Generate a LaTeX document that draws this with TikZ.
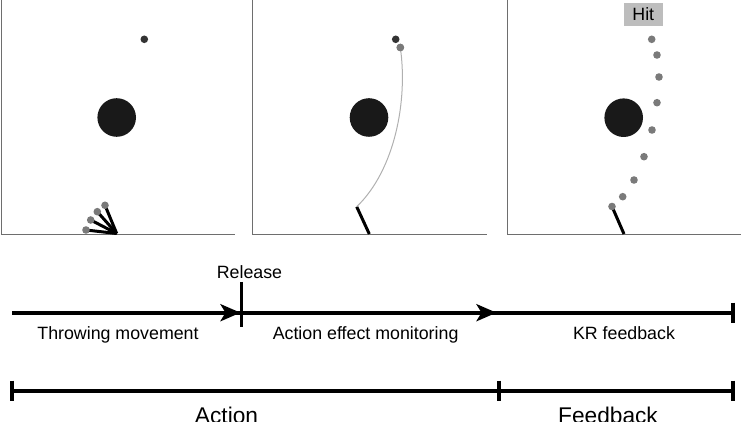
\documentclass[tikz,border=0pt]{standalone}
\usepackage{fontspec}
\setmainfont{Liberation Sans}
\usetikzlibrary{arrows.meta}
\definecolor{axisgray}{HTML}{6E6E6E}
\definecolor{dotgray}{HTML}{7A7A7A}
\definecolor{darkdot}{HTML}{333333}
\definecolor{trajgray}{HTML}{B0B0B0}
\definecolor{hitgray}{HTML}{BDBDBD}
\tikzset{
  axisline/.style={draw=axisgray,line width=1.3pt},
  target/.style={circle,fill=black!90,inner sep=0pt,minimum size=38.6pt},
  gdot/.style={circle,fill=dotgray,inner sep=0pt,minimum size=7.6pt},
  ddot/.style={circle,fill=darkdot,inner sep=0pt,minimum size=7.6pt},
  arm/.style={line width=3pt,black},
  small/.style={font=\fontsize{17.8}{20}\selectfont,inner sep=0pt,anchor=base},
  big/.style={font=\fontsize{22.7}{25}\selectfont,inner sep=0pt,anchor=base},
  tline/.style={line width=4.3pt,black},
  tick/.style={line width=4pt,black},
  arrowtip/.style={-{Stealth[length=20pt,width=17pt,inset=5pt]}},
}
\begin{document}
\begin{tikzpicture}[x=1pt,y=-1pt]
\useasboundingbox (0,0) rectangle (742,422);
\clip (0,0) rectangle (742,422);
% ---------- panel 1 ----------
\coordinate (o1) at (1.7,234.3);
\draw[axisline] (1.7,0) -- (o1) -- (235,234.3);
\node[target] (t1) at (116.7,117.5) {};
\node[ddot] (b1) at (144.3,39.3) {};
\coordinate (piv1) at (116.7,233.5);
\coordinate (f1a) at (105,205.3);
\coordinate (f1b) at (97.3,211.7);
\coordinate (f1c) at (90.7,220);
\coordinate (f1d) at (86,230);
\foreach \c in {f1a,f1b,f1c,f1d} \draw[arm] (piv1) -- (\c);
\node[gdot] (d1a) at (f1a) {};
\node[gdot] (d1b) at (f1b) {};
\node[gdot] (d1c) at (f1c) {};
\node[gdot] (d1d) at (f1d) {};
% ---------- panel 2 ----------
\coordinate (o2) at (252.7,234.3);
\draw[axisline] (252.7,0) -- (o2) -- (486.7,234.3);
\node[target] (t2) at (369,117.5) {};
\coordinate (piv2) at (369.3,234);
\coordinate (h2) at (356.7,206.7);
\draw[arm] (piv2) -- (h2);
\node[gdot] (g2) at (400.3,47.5) {};
\draw[trajgray,line width=1pt] (h2) .. controls (395,170) and (408,100) .. (g2.center);
\node[gdot] (g2top) at (400.3,47.5) {};
\node[ddot] (b2) at (395.7,39.3) {};
% ---------- panel 3 ----------
\coordinate (o3) at (507.3,234.3);
\draw[axisline] (507.3,0) -- (o3) -- (740.7,234.3);
\node[target] (t3) at (623.7,117.7) {};
\coordinate (piv3) at (624,234);
\coordinate (h3) at (612,206.5);
\draw[arm] (piv3) -- (h3);
\node[gdot] (e1) at (h3) {};
\node[gdot] (e2) at (622.7,196.7) {};
\node[gdot] (e3) at (634,180) {};
\node[gdot] (e4) at (644,156.7) {};
\node[gdot] (e5) at (652,130) {};
\node[gdot] (e6) at (657,102.7) {};
\node[gdot] (e7) at (659,77) {};
\node[gdot] (e8) at (657,55) {};
\node[gdot] (e9) at (651.7,39.3) {};
\node[fill=hitgray,minimum width=38.7pt,minimum height=23.3pt,inner sep=0pt] (hitbox) at (643.3,14.3) {};
\node[small] (hit) at (643.3,20.3) {Hit};
% ---------- timeline 1 ----------
\coordinate (a0) at (12,312.7);
\coordinate (rel) at (241.7,312.7);
\coordinate (a1) at (496.5,312.7);
\coordinate (a2) at (732.7,312.7);
\draw[tline] (a0) -- (a2);
\draw[tline,arrowtip] (a0) -- (240.5,312.7);
\draw[tline,arrowtip] (rel) -- (a1);
\draw[line width=3.3pt] (241.7,282) -- (241.7,327);
\draw[tick] (732.7,302.7) -- (732.7,322.7);
\node[small] (release) at (249.5,279) {Release};
\node[small] (lab1) at (118,339) {Throwing movement};
\node[small] (lab2) at (365.6,339) {Action effect monitoring};
\node[small] (lab3) at (624,339) {KR feedback};
% ---------- timeline 2 ----------
\coordinate (c0) at (12,390.7);
\coordinate (c1) at (499,390.7);
\coordinate (c2) at (732.7,390.7);
\draw[tline] (c0) -- (c2);
\draw[tick] (12,380.7) -- (12,400.7);
\draw[tick] (499,380.7) -- (499,400.7);
\draw[tick] (732.7,380.7) -- (732.7,400.7);
\node[big] (act) at (226.5,423) {Action};
\node[big] (fb) at (608,423) {Feedback};
\end{tikzpicture}
\end{document}
